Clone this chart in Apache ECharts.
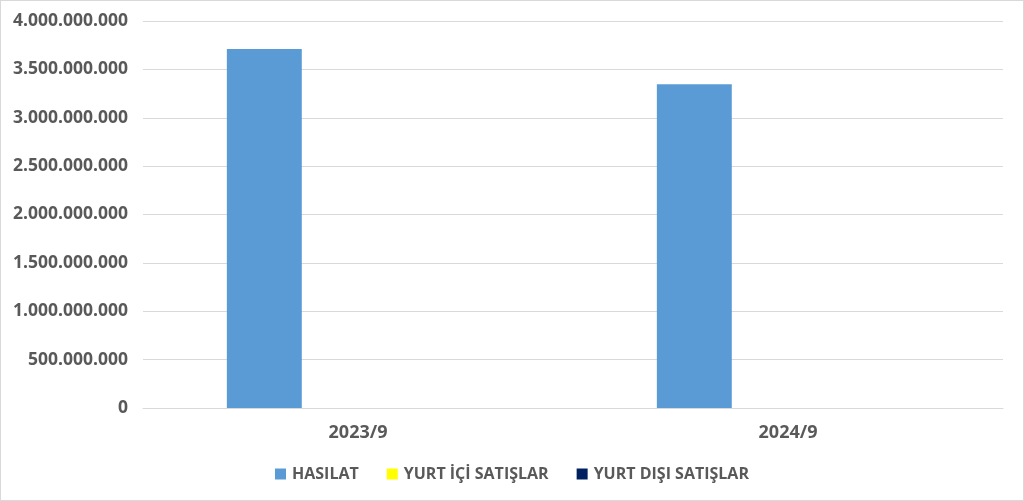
<!DOCTYPE html>
<html><head><meta charset="utf-8">
<script src="https://cdn.jsdelivr.net/npm/echarts@6/dist/echarts.min.js"></script>
<style>
html,body{margin:0;padding:0;background:#fff;}
#wrap{position:absolute;left:0;top:0;width:1022px;height:499px;border:1px solid #d9d9d9;}
#c{width:1022px;height:499px;}
</style></head>
<body><div id="wrap"><div id="c"></div></div>
<script>
const categories = ['2023/9', '2024/9'];
const seriesNames = ['HASILAT', 'YURT İÇİ SATIŞLAR', 'YURT DIŞI SATIŞLAR'];
const hasilat = [3710000000, 3347000000];
const yurtIci = [0, 0];
const yurtDisi = [0, 0];
const colors = ['#5B9BD5', '#FFFF00', '#002060'];

function fmt(v){ return String(v).replace(/\B(?=(\d{3})+(?!\d))/g, '.'); }

const chart = echarts.init(document.getElementById('c'));
const font = 'Open Sans';
chart.setOption({
  animation:false,
  color: colors,
  grid:{left:142, right:20, top:20, bottom:92},
  legend:{
    top:460, left:'center', itemWidth:11, itemHeight:11, itemGap:28, itemStyle:{borderWidth:0}, icon:'rect',
    textStyle:{color:'#595959', fontFamily:font, fontWeight:'bold', fontSize:16, padding:[0,0,0,1]},
    data: seriesNames
  },
  xAxis:{
    type:'category', data:categories,
    axisLine:{lineStyle:{color:'#d9d9d9', width:1}},
    axisTick:{show:false},
    axisLabel:{color:'#595959', fontFamily:font, fontWeight:'bold', fontSize:18, margin:16}
  },
  yAxis:{
    type:'value', min:0, max:4000000000, interval:500000000,
    axisLine:{show:false}, axisTick:{show:false},
    splitLine:{lineStyle:{color:'#d9d9d9', width:1}},
    axisLabel:{color:'#595959', fontFamily:font, fontWeight:'bold', fontSize:17.5, margin:15, formatter:fmt}
  },
  series:[
    {name:seriesNames[0], type:'bar', data:hasilat, barGap:'25%', barCategoryGap:'39%'},
    {name:seriesNames[1], type:'bar', data:yurtIci},
    {name:seriesNames[2], type:'bar', data:yurtDisi}
  ]
});
</script></body></html>
